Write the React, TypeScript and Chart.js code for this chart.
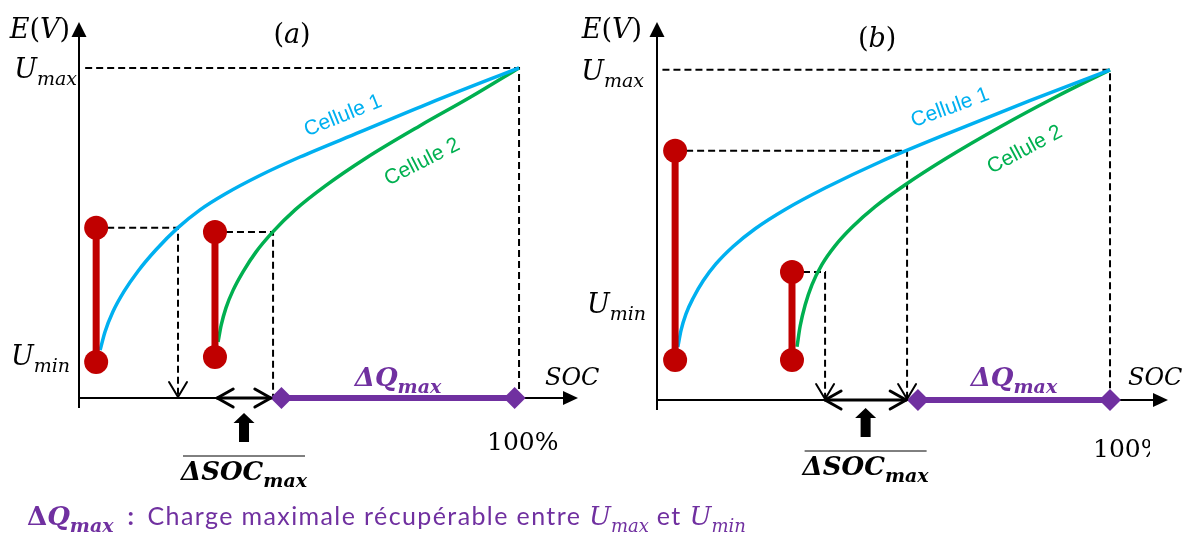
import React, { useEffect, useRef } from "react";
import { Chart, registerables } from "chart.js";

Chart.register(...registerables);

// ---------------- Data: panel (a) ----------------
const A_CELL1_SOC = [4.8, 5.9, 7.7, 10.2, 13.4, 17.5, 22.5, 27.5, 33.2, 41.1, 50.2, 63.9, 79.8, 100];
const A_CELL1_E = [14.5, 20.0, 26.1, 32.2, 38.4, 44.9, 51.6, 57.0, 61.8, 67.4, 73.0, 80.6, 89.4, 100];
const A_CELL2_SOC = [31.6, 32.3, 33.4, 35.0, 37.3, 40.2, 44.1, 49.1, 55.9, 65.0, 77.5, 88.9, 100];
const A_CELL2_E = [17.0, 22.0, 27.3, 32.6, 38.3, 44.2, 50.4, 57.0, 64.2, 72.5, 82.5, 91.1, 100];
const A_BAR_SOC = [3.9, 30.9];
const A_BAR_EMIN = [10.9, 12.4];
const A_BAR_EMAX = [51.6, 50.3];
const A_PROJ_SOC = [22.5, 44.1];
const A_DSOC = [31.4, 43.6];
const A_DQ = [46, 99];

// ---------------- Data: panel (b) ----------------
const B_CELL1_SOC = [4.6, 5.3, 6.4, 8.0, 10.2, 13.0, 16.8, 21.6, 28.3, 37.1, 49.2, 64.7, 82.3, 100];
const B_CELL1_E = [16.1, 21.1, 26.1, 30.9, 36.1, 41.2, 46.5, 51.8, 57.7, 64.2, 72.1, 81.0, 90.7, 100];
const B_CELL2_SOC = [30.9, 31.6, 32.7, 34.2, 36.4, 39.3, 43.1, 48.1, 54.8, 63.6, 75.7, 87.9, 100];
const B_CELL2_E = [16.1, 22.4, 28.8, 34.9, 41.0, 46.7, 52.4, 58.5, 65.2, 73.0, 82.7, 91.7, 100];
const B_BAR_SOC = [4.0, 29.8];
const B_BAR_EMIN = [12.1, 12.1];
const B_BAR_EMAX = [75.5, 38.8];
const B_PROJ_SOC = [55.2, 37.1];
const B_DSOC = [37.1, 55.0];
const B_DQ = [57.6, 100];

const U_MAX = 100;
const SOC_FULL = 100;

// ---------------- Text ----------------
const LABEL_CELL1 = "Cellule 1";
const LABEL_CELL2 = "Cellule 2";
const TICK_FULL = "100%";

// ---------------- Styles ----------------
const BLUE = "#00B0F0";
const GREEN = "#00B050";
const RED = "#C00000";
const PURPLE = "#7030A0";
const SERIF = '"DejaVu Serif", serif';
const F_IT = `italic 27px ${SERIF}`;
const F_UP = `27px ${SERIF}`;
const F_SUB = `italic 19px ${SERIF}`;
const F_SOC = `italic 24px ${SERIF}`;
const F_NUM = `25px ${SERIF}`;
const F_BI = `italic bold 26px ${SERIF}`;
const F_BSUB = `italic bold 19px ${SERIF}`;
const F_CELL = `21px "Liberation Sans", Arial, sans-serif`;

type Run = { t: string; f: string; dy?: number };

function drawRuns(ctx: CanvasRenderingContext2D, runs: Run[], x: number, y: number, align: string, color: string) {
  let total = 0;
  const ws = runs.map((r) => {
    ctx.font = r.f;
    const w = ctx.measureText(r.t).width;
    total += w;
    return w;
  });
  let cx = align === "left" ? x : align === "center" ? x - total / 2 : x - total;
  ctx.fillStyle = color;
  ctx.textAlign = "left";
  ctx.textBaseline = "alphabetic";
  runs.forEach((r, i) => {
    ctx.font = r.f;
    ctx.fillText(r.t, cx, y + (r.dy || 0));
    cx += ws[i];
  });
}

type Panel = {
  tag: string;
  left: number;
  width: number;
  padding: { left: number; right: number; top: number; bottom: number };
  xMax: number;
  yMax: number;
  cell1Soc: number[];
  cell1E: number[];
  cell2Soc: number[];
  cell2E: number[];
  barSoc: number[];
  barMin: number[];
  barMax: number[];
  projSoc: number[];
  projArrow: boolean[];
  dsoc: number[];
  dq: number[];
  umaxFrom: number;
  eLabelDx: number;
  umaxLabelDx: number;
  uminLabelDx: number;
  uminLabelE: number;
  tagSoc: number;
  tagBaseline: number;
  socLabelDx: number;
  socLabelDy: number;
  dqLabelDy: number;
  fullLabelDx: number;
  fullLabelDy: number;
  fullClipDx: number | null;
  upArrowDy: number;
  overlineDy: number;
  dsocBaselineDy: number;
  cell1Label: number[];
  cell2Label: number[];
};

const PANEL_A: Panel = {
  tag: "a",
  left: 0,
  width: 600,
  padding: { left: 79, right: 22, top: 22, bottom: 139 },
  xMax: 113.4,
  yMax: 113.9,
  cell1Soc: A_CELL1_SOC,
  cell1E: A_CELL1_E,
  cell2Soc: A_CELL2_SOC,
  cell2E: A_CELL2_E,
  barSoc: A_BAR_SOC,
  barMin: A_BAR_EMIN,
  barMax: A_BAR_EMAX,
  projSoc: A_PROJ_SOC,
  projArrow: [true, false],
  dsoc: A_DSOC,
  dq: A_DQ,
  umaxFrom: 1.4,
  eLabelDx: -9,
  umaxLabelDx: -2,
  uminLabelDx: -9,
  uminLabelE: 10.0,
  tagSoc: 48.4,
  tagBaseline: 43,
  socLabelDx: -33,
  socLabelDy: -13,
  dqLabelDy: -12,
  fullLabelDx: -32,
  fullLabelDy: 52,
  fullClipDx: null,
  upArrowDy: 15,
  overlineDy: 58,
  dsocBaselineDy: 82,
  cell1Label: [60, 85.5, -22],
  cell2Label: [78, 71.5, -27],
};

const PANEL_B: Panel = {
  tag: "b",
  left: 570,
  width: 616,
  padding: { left: 87, right: 18, top: 22, bottom: 137 },
  xMax: 112.8,
  yMax: 114.5,
  cell1Soc: B_CELL1_SOC,
  cell1E: B_CELL1_E,
  cell2Soc: B_CELL2_SOC,
  cell2E: B_CELL2_E,
  barSoc: B_BAR_SOC,
  barMin: B_BAR_EMIN,
  barMax: B_BAR_EMAX,
  projSoc: B_PROJ_SOC,
  projArrow: [true, true],
  dsoc: B_DSOC,
  dq: B_DQ,
  umaxFrom: 1.2,
  eLabelDx: -15,
  umaxLabelDx: -13,
  uminLabelDx: -11,
  uminLabelE: 26.4,
  tagSoc: 48.6,
  tagBaseline: 47,
  socLabelDx: -40,
  socLabelDy: -15,
  dqLabelDy: -14,
  fullLabelDx: -17,
  fullLabelDy: 57,
  fullClipDx: 40,
  upArrowDy: 8,
  overlineDy: 51,
  dsocBaselineDy: 75,
  cell1Label: [64.7, 88.5, -20],
  cell2Label: [81.2, 75.8, -28],
};

function makePlugin(p: Panel) {
  return {
    id: "diagram_" + p.tag,
    beforeDatasetsDraw(chart: any) {
      const ctx: CanvasRenderingContext2D = chart.ctx;
      const xs = chart.scales.x;
      const ys = chart.scales.y;
      const X = (v: number) => xs.getPixelForValue(v);
      const Y = (v: number) => ys.getPixelForValue(v);
      ctx.save();
      ctx.strokeStyle = "#000";
      ctx.fillStyle = "#000";
      ctx.lineWidth = 2;
      ctx.beginPath();
      ctx.moveTo(X(0), Y(0) + 10);
      ctx.lineTo(X(0), ys.top + 12);
      ctx.stroke();
      ctx.beginPath();
      ctx.moveTo(X(0), ys.top);
      ctx.lineTo(X(0) - 7.5, ys.top + 15);
      ctx.lineTo(X(0) + 7.5, ys.top + 15);
      ctx.closePath();
      ctx.fill();
      ctx.beginPath();
      ctx.moveTo(X(0) - 1, Y(0));
      ctx.lineTo(xs.right - 12, Y(0));
      ctx.stroke();
      ctx.beginPath();
      ctx.moveTo(xs.right, Y(0));
      ctx.lineTo(xs.right - 15, Y(0) - 7);
      ctx.lineTo(xs.right - 15, Y(0) + 7);
      ctx.closePath();
      ctx.fill();
      ctx.restore();
    },
    afterDatasetsDraw(chart: any) {
      const ctx: CanvasRenderingContext2D = chart.ctx;
      const xs = chart.scales.x;
      const ys = chart.scales.y;
      const X = (v: number) => xs.getPixelForValue(v);
      const Y = (v: number) => ys.getPixelForValue(v);
      const y0 = Y(0);
      ctx.save();
      ctx.strokeStyle = "#000";
      ctx.fillStyle = "#000";
      ctx.lineCap = "round";
      ctx.lineJoin = "round";
      ctx.lineWidth = 2;
      p.projSoc.forEach((s, i) => {
        if (!p.projArrow[i]) return;
        const px = X(s);
        ctx.beginPath();
        ctx.moveTo(px - 9, y0 - 16);
        ctx.lineTo(px, y0 - 1);
        ctx.lineTo(px + 9, y0 - 16);
        ctx.stroke();
      });
      const a0 = X(p.dsoc[0]);
      const a1 = X(p.dsoc[1]);
      ctx.lineWidth = 3;
      ctx.beginPath();
      ctx.moveTo(a0, y0);
      ctx.lineTo(a1, y0);
      ctx.stroke();
      ctx.beginPath();
      ctx.moveTo(a0 + 16, y0 - 9);
      ctx.lineTo(a0, y0);
      ctx.lineTo(a0 + 16, y0 + 9);
      ctx.moveTo(a1 - 16, y0 - 9);
      ctx.lineTo(a1, y0);
      ctx.lineTo(a1 - 16, y0 + 9);
      ctx.stroke();
      const cx = (a0 + a1) / 2;
      const t = y0 + p.upArrowDy;
      ctx.beginPath();
      ctx.moveTo(cx, t);
      ctx.lineTo(cx + 10.5, t + 10);
      ctx.lineTo(cx + 5, t + 10);
      ctx.lineTo(cx + 5, t + 29);
      ctx.lineTo(cx - 5, t + 29);
      ctx.lineTo(cx - 5, t + 10);
      ctx.lineTo(cx - 10.5, t + 10);
      ctx.closePath();
      ctx.fill();
      ctx.lineWidth = 1;
      ctx.lineCap = "butt";
      ctx.beginPath();
      ctx.moveTo(cx - 61, y0 + p.overlineDy);
      ctx.lineTo(cx + 61, y0 + p.overlineDy);
      ctx.stroke();
      drawRuns(ctx, [{ t: "ΔSOC", f: F_BI }, { t: "max", f: F_BSUB, dy: 7 }], cx, y0 + p.dsocBaselineDy, "center", "#000");

      const ax = X(0);
      drawRuns(ctx, [{ t: "E", f: F_IT }, { t: "(", f: F_UP }, { t: "V", f: F_IT }, { t: ")", f: F_UP }], ax + p.eLabelDx, ys.top + 16, "right", "#000");
      drawRuns(ctx, [{ t: "U", f: F_IT }, { t: "max", f: F_SUB, dy: 7 }], ax + p.umaxLabelDx, Y(U_MAX) + 10, "right", "#000");
      drawRuns(ctx, [{ t: "U", f: F_IT }, { t: "min", f: F_SUB, dy: 7 }], ax + p.uminLabelDx, Y(p.uminLabelE), "right", "#000");
      drawRuns(ctx, [{ t: "(", f: F_UP }, { t: p.tag, f: F_IT }, { t: ")", f: F_UP }], X(p.tagSoc), p.tagBaseline, "center", "#000");
      drawRuns(ctx, [{ t: "SOC", f: F_SOC }], xs.right + p.socLabelDx, y0 + p.socLabelDy, "left", "#000");
      drawRuns(ctx, [{ t: "ΔQ", f: F_BI }, { t: "max", f: F_BSUB, dy: 7 }], (X(p.dq[0]) + X(p.dq[1])) / 2, y0 + p.dqLabelDy, "center", PURPLE);
      ctx.save();
      if (p.fullClipDx !== null) {
        ctx.beginPath();
        ctx.rect(0, 0, X(SOC_FULL) + p.fullClipDx, chart.height);
        ctx.clip();
      }
      drawRuns(ctx, [{ t: TICK_FULL, f: F_NUM }], X(SOC_FULL) + p.fullLabelDx, y0 + p.fullLabelDy, "left", "#000");
      ctx.restore();

      const rot = (txt: string, pos: number[], color: string) => {
        ctx.save();
        ctx.translate(X(pos[0]), Y(pos[1]));
        ctx.rotate((pos[2] * Math.PI) / 180);
        ctx.font = F_CELL;
        ctx.fillStyle = color;
        ctx.textAlign = "center";
        ctx.textBaseline = "middle";
        ctx.fillText(txt, 0, 0);
        ctx.restore();
      };
      rot(LABEL_CELL1, p.cell1Label, BLUE);
      rot(LABEL_CELL2, p.cell2Label, GREEN);
      ctx.restore();
    },
  };
}

function buildConfig(p: Panel): any {
  const pts = (xs: number[], ys: number[]) => xs.map((x, i) => ({ x, y: ys[i] }));
  const datasets: any[] = [];
  const dashed = { borderColor: "#000", borderWidth: 2, borderDash: [7, 4], pointRadius: 0, showLine: true, order: 20, clip: false };
  datasets.push({
    ...dashed,
    label: "Umax / 100%",
    data: [
      { x: p.umaxFrom, y: U_MAX },
      { x: SOC_FULL, y: U_MAX },
      { x: SOC_FULL, y: 0 },
    ],
  });
  p.barSoc.forEach((bx, i) => {
    datasets.push({
      ...dashed,
      label: "projection " + (i + 1),
      data: [
        { x: bx, y: p.barMax[i] },
        { x: p.projSoc[i], y: p.barMax[i] },
        { x: p.projSoc[i], y: 0 },
      ],
    });
  });
  const curve = { borderWidth: 3.5, pointRadius: 0, showLine: true, cubicInterpolationMode: "monotone", order: 10, clip: false };
  datasets.push({ ...curve, label: LABEL_CELL1, data: pts(p.cell1Soc, p.cell1E), borderColor: BLUE });
  datasets.push({ ...curve, label: LABEL_CELL2, data: pts(p.cell2Soc, p.cell2E), borderColor: GREEN });
  p.barSoc.forEach((bx, i) => {
    datasets.push({
      label: "bar " + (i + 1),
      data: [
        { x: bx, y: p.barMin[i] },
        { x: bx, y: p.barMax[i] },
      ],
      borderColor: RED,
      backgroundColor: RED,
      pointBackgroundColor: RED,
      pointBorderColor: RED,
      pointBorderWidth: 0,
      borderWidth: 7,
      pointRadius: 12,
      showLine: true,
      order: 5,
      clip: false,
    });
  });
  datasets.push({
    label: "ΔQmax",
    data: [
      { x: p.dq[0], y: 0 },
      { x: p.dq[1], y: 0 },
    ],
    borderColor: PURPLE,
    backgroundColor: PURPLE,
    pointBackgroundColor: PURPLE,
    pointBorderColor: PURPLE,
    pointBorderWidth: 0,
    pointStyle: "rectRot",
    pointRadius: 11,
    borderWidth: 6,
    showLine: true,
    order: 1,
    clip: false,
  });
  return {
    type: "scatter",
    data: { datasets },
    options: {
      animation: false,
      responsive: false,
      events: [],
      layout: { padding: p.padding },
      plugins: { legend: { display: false }, tooltip: { enabled: false }, title: { display: false } },
      scales: {
        x: { type: "linear", min: 0, max: p.xMax, display: false },
        y: { type: "linear", min: 0, max: p.yMax, display: false },
      },
    },
    plugins: [makePlugin(p)],
  };
}

function PanelChart({ p }: { p: Panel }) {
  const ref = useRef<HTMLCanvasElement | null>(null);
  useEffect(() => {
    if (!ref.current) return;
    const chart = new Chart(ref.current, buildConfig(p));
    return () => chart.destroy();
  }, [p]);
  return (
    <canvas
      ref={ref}
      width={p.width}
      height={537}
      style={{ position: "absolute", left: p.left, top: 0, width: p.width, height: 537 }}
    />
  );
}

export default function App() {
  const serif = '"DejaVu Serif", serif';
  const sub = { fontSize: 18, position: "relative" as const, top: 7 };
  return (
    <div style={{ position: "absolute", left: 0, top: 0, width: 1186, height: 537, background: "#fff", overflow: "hidden" }}>
      <PanelChart p={PANEL_A} />
      <PanelChart p={PANEL_B} />
      <div
        style={{
          position: "absolute",
          left: 27,
          top: 499,
          whiteSpace: "nowrap",
          color: PURPLE,
          fontFamily: 'Lato, "Open Sans", sans-serif',
          fontSize: 25,
          letterSpacing: 1.4,
          lineHeight: "32px",
        }}
      >
        <span style={{ fontFamily: serif, fontWeight: "bold", fontSize: 26, letterSpacing: 0 }}>
          Δ<i>Q</i>
          <i style={{ ...sub, fontSize: 19 }}>max</i>
        </span>
        <span style={{ fontWeight: "bold", margin: "0 12px 0 14px" }}>:</span>
        Charge maximale récupérable entre{" "}
        <span style={{ fontFamily: serif, fontStyle: "italic", fontSize: 26, letterSpacing: 0 }}>
          U<span style={sub}>max</span>
        </span>{" "}
        et{" "}
        <span style={{ fontFamily: serif, fontStyle: "italic", fontSize: 26, letterSpacing: 0 }}>
          U<span style={sub}>min</span>
        </span>
      </div>
    </div>
  );
}
